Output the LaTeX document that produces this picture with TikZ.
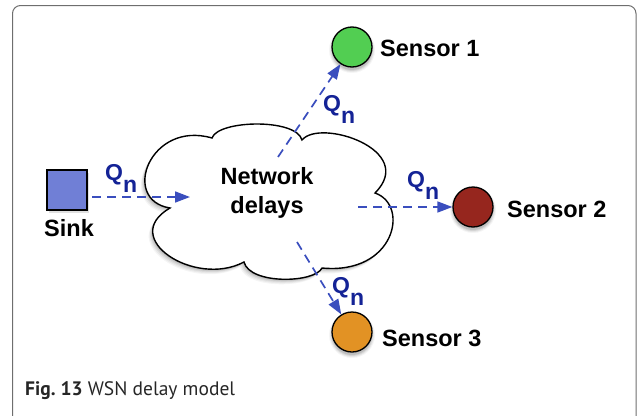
\documentclass[tikz,border=0pt]{standalone}
\usepackage{fontspec}
\setmainfont{Liberation Sans}
\newfontfamily\capfont{PT Sans}
\usetikzlibrary{arrows.meta}
\definecolor{framecol}{RGB}{110,110,110}
\definecolor{sinkcol}{RGB}{112,127,214}
\definecolor{greencol}{RGB}{82,206,82}
\definecolor{redcol}{RGB}{150,38,30}
\definecolor{orangecol}{RGB}{226,146,36}
\definecolor{arrowcol}{RGB}{58,78,190}
\definecolor{qcol}{RGB}{20,35,150}
\tikzset{
  lbl/.style={font=\fontsize{23.5}{29}\selectfont\bfseries, inner sep=0pt, anchor=base west},
  sensor/.style={circle, draw=black, line width=1.3pt, minimum size=40pt, inner sep=0pt},
  flow/.style={draw=arrowcol, line width=1.7pt, dash pattern=on 9pt off 6pt,
    -{Triangle[length=15pt,width=11pt]}},
  qn/.style={text=qcol, font=\fontsize{23}{23}\selectfont\bfseries, inner sep=0pt, anchor=base west},
}
\newcommand{\Qn}{Q\raisebox{-12pt}{n}}
\newcommand{\cloudpath}{(212,138) .. controls (218,120) and (296,118) .. (302,140)
 .. controls (320,118) and (418,150) .. (375,193)
 .. controls (410,205) and (395,275) .. (322,268)
 .. controls (315,283) and (250,285) .. (244,262)
 .. controls (195,288) and (118,238) .. (170,208)
 .. controls (120,200) and (150,120) .. (212,138) -- cycle}
\newcommand{\circshadow}[2]{%
  \foreach \d/\o in {0/0.10,1/0.08,2/0.06,3/0.04}{%
    \fill[black, opacity=\o] (#1,#2+3) circle[radius=20pt+\d pt];}}
\begin{document}
\begin{tikzpicture}[x=1pt,y=-1pt]
\useasboundingbox (0,0) rectangle (637,415);
% frame
\draw[framecol, line width=1pt, rounded corners=8pt] (12.5,5.5) rectangle (636,445);
% cloud shadow
\foreach \d/\o in {1/0.10,2/0.08,3/0.06,4/0.05,5/0.04}{%
  \fill[black, opacity=\o, shift={(-0.8*\d,\d)}] \cloudpath;}
\filldraw[fill=white, draw=black, line width=1.4pt] \cloudpath;
\node[font=\fontsize{23.5}{29}\selectfont\bfseries, align=center, inner sep=0pt] (net) at (267,192.5) {Network\\delays};
% sink
\fill[black, opacity=0.12] (49,173) rectangle (89,213);
\node[draw=black, line width=1.3pt, fill=sinkcol, minimum size=40pt, inner sep=0pt] (sink) at (67,190) {};
\node[lbl] (sinklbl) at (44,236) {Sink};
% sensors
\circshadow{352}{47}
\circshadow{473}{207}
\circshadow{352}{332}
\node[sensor, fill=greencol] (s1) at (352,47) {};
\node[sensor, fill=redcol] (s2) at (473,207) {};
\node[sensor, fill=orangecol] (s3) at (352,332) {};
\node[lbl] (s1lbl) at (380,56) {Sensor 1};
\node[lbl] (s2lbl) at (507,217) {Sensor 2};
\node[lbl] (s3lbl) at (382,346) {Sensor 3};
% flow coordinates
\coordinate (a0) at (92,197);
\coordinate (a1) at (190,197);
\coordinate (b1) at (278,157);
\coordinate (b2) at (358,207);
\coordinate (b3) at (297,242);
\draw[flow] (a0) -- (a1);
\draw[flow] (b1) -- (s1);
\draw[flow] (b2) -- (s2);
\draw[flow] (b3) -- (s3);
% Qn labels
\node[qn] (q0) at (105,180) {\Qn};
\node[qn] (q1) at (323,111) {\Qn};
\node[qn] (q2) at (407,187) {\Qn};
\node[qn] (q3) at (332,293) {\Qn};
% caption
\node[anchor=base west, inner sep=0pt, font=\capfont\fontsize{19.5}{19.5}\selectfont, text=black!85] (cap) at (25,395) {\textbf{Fig.\ 13} WSN delay model};
\end{tikzpicture}
\end{document}
